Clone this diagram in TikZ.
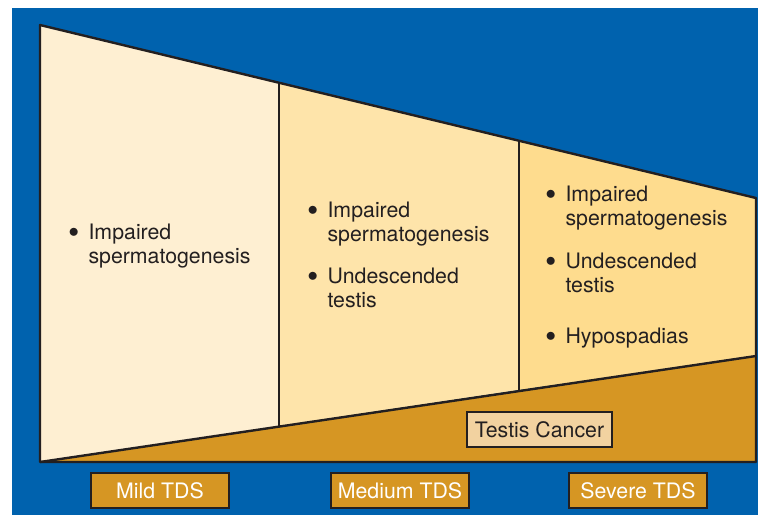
\documentclass[tikz,border=0pt]{standalone}
\usepackage{fontspec}
\setmainfont{TeX Gyre Heros}

\definecolor{bgblue}{RGB}{0,98,174}
\definecolor{edge}{RGB}{35,31,32}
\definecolor{mild}{RGB}{254,239,210}
\definecolor{medium}{RGB}{254,228,170}
\definecolor{severe}{RGB}{254,220,142}
\definecolor{cancer}{RGB}{214,150,35}
\definecolor{cancerbox}{RGB}{242,210,160}

\newcommand{\tdsitem}[1]{\begin{tabular}[t]{@{}l@{\hspace{9.5pt}}l@{}}\raisebox{2pt}{$\bullet$} & #1\end{tabular}}

\tikzset{
  outline/.style={draw=edge, line width=2.4pt, line join=round},
  grade/.style={draw=edge, line width=2.4pt, fill=cancer, text=white, minimum width=138pt, minimum height=35pt, inner sep=0pt},
  symptom/.style={anchor=base west, inner sep=0pt, text=edge},
}

\begin{document}
\begin{tikzpicture}[x=1pt, y=-1pt, font=\fontsize{21.3}{24}\selectfont]
    \useasboundingbox (0,0) rectangle (758,515);
    \fill[bgblue] (12,8) rectangle (758,515);

    \coordinate (TL) at (40,25);
    \coordinate (TR) at (756,198);
    \coordinate (BL) at (40,462);
    \coordinate (BR) at (756,462);
    \coordinate (CR) at (756,356);
    \coordinate (A1) at (279,83);
    \coordinate (A2) at (279,426);
    \coordinate (B1) at (519,141);
    \coordinate (B2) at (519,390);

    % panels
    \fill[mild] (TL) -- (A1) -- (A2) -- (BL) -- cycle;
    \fill[medium] (A1) -- (B1) -- (B2) -- (A2) -- cycle;
    \fill[severe] (B1) -- (TR) -- (CR) -- (B2) -- cycle;
    \fill[cancer] (BL) -- (CR) -- (BR) -- cycle;
    \draw[outline] (TL) -- (TR) -- (BR) -- (BL) -- cycle;
    \draw[outline] (BL) -- (CR);
    \draw[outline] (A1) -- (A2);
    \draw[outline] (B1) -- (B2);

    \node[symptom] (mildA) at (68.5,239) {\tdsitem{Impaired\\ & spermatogenesis}};

    \node[symptom] (medA) at (307.5,217) {\tdsitem{Impaired\\ & spermatogenesis}};
    \node[symptom] (medB) at (307.5,283) {\tdsitem{Undescended\\ & testis}};

    \node[symptom] (sevA) at (545.5,201) {\tdsitem{Impaired\\ & spermatogenesis}};
    \node[symptom] (sevB) at (545.5,268) {\tdsitem{Undescended\\ & testis}};
    \node[symptom] (sevC) at (545.5,343) {\tdsitem{Hypospadias}};

    \node[grade, fill=cancerbox, text=edge, minimum width=145pt] (cancer) at (539.5,429.5) {Testis Cancer};

    \node[grade] (mild) at (160,490.5) {Mild TDS};
    \node[grade] (medium) at (400,490.5) {Medium TDS};
    \node[grade] (severe) at (638,490.5) {Severe TDS};
\end{tikzpicture}
\end{document}
